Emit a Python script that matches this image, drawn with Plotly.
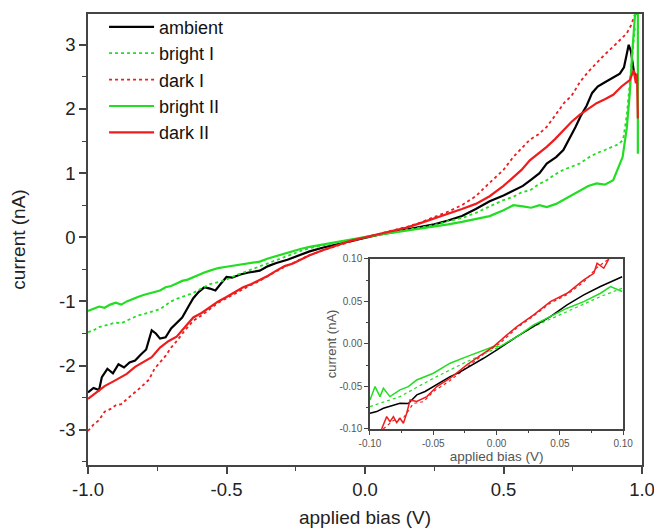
import plotly.graph_objects as go

# ---------------- main panel data (bias V, current nA) ----------------
amb_x = [-1.0, -0.98, -0.96, -0.95, -0.93, -0.91, -0.89, -0.87, -0.85, -0.83, -0.81, -0.79, -0.77, -0.755,
         -0.74, -0.72, -0.70, -0.68, -0.66, -0.64, -0.62, -0.60, -0.58, -0.56, -0.54, -0.52, -0.50, -0.48,
         -0.45, -0.42, -0.38, -0.35, -0.32, -0.28, -0.25, -0.20, -0.15, -0.10, -0.05, 0.0, 0.05, 0.10, 0.15,
         0.20, 0.25, 0.30, 0.35, 0.40, 0.45, 0.50, 0.535, 0.57, 0.60, 0.63, 0.656, 0.69, 0.716, 0.74, 0.76,
         0.78, 0.80, 0.82, 0.84, 0.86, 0.88, 0.90, 0.92, 0.935, 0.945, 0.952, 0.96, 0.97, 0.98]
amb_y = [-2.42, -2.35, -2.38, -2.18, -2.05, -2.12, -1.98, -2.03, -1.95, -1.92, -1.83, -1.75, -1.45, -1.50,
         -1.58, -1.56, -1.42, -1.33, -1.25, -1.10, -0.95, -0.85, -0.78, -0.80, -0.83, -0.72, -0.62, -0.63,
         -0.58, -0.55, -0.52, -0.45, -0.40, -0.35, -0.30, -0.22, -0.16, -0.11, -0.05, 0.0, 0.04, 0.08, 0.12,
         0.16, 0.20, 0.26, 0.33, 0.44, 0.56, 0.65, 0.73, 0.80, 0.90, 1.00, 1.15, 1.25, 1.36, 1.55, 1.72,
         1.90, 2.05, 2.25, 2.35, 2.40, 2.45, 2.50, 2.55, 2.65, 2.85, 3.00, 2.90, 2.60, 2.45]

brI_x = [-1.0, -0.98, -0.96, -0.94, -0.92, -0.90, -0.88, -0.86, -0.84, -0.82, -0.80, -0.78, -0.76, -0.74,
         -0.72, -0.70, -0.68, -0.66, -0.64, -0.62, -0.60, -0.58, -0.56, -0.53, -0.50, -0.47, -0.44, -0.41,
         -0.38, -0.35, -0.32, -0.29, -0.26, -0.23, -0.20, -0.15, -0.10, -0.05, 0.0, 0.05, 0.10, 0.15, 0.20,
         0.25, 0.30, 0.35, 0.40, 0.45, 0.50, 0.535, 0.565, 0.595, 0.625, 0.656, 0.686, 0.716, 0.746, 0.776,
         0.806, 0.836, 0.866, 0.896, 0.915, 0.932, 0.945, 0.96, 0.975]
brI_y = [-1.48, -1.45, -1.40, -1.38, -1.36, -1.33, -1.34, -1.30, -1.27, -1.22, -1.20, -1.17, -1.14, -1.12,
         -1.06, -1.00, -0.96, -0.93, -0.90, -0.87, -0.82, -0.77, -0.73, -0.70, -0.66, -0.60, -0.55, -0.50,
         -0.46, -0.41, -0.35, -0.30, -0.26, -0.21, -0.17, -0.12, -0.08, -0.04, 0.0, 0.04, 0.08, 0.11, 0.15,
         0.19, 0.25, 0.30, 0.38, 0.48, 0.58, 0.63, 0.70, 0.73, 0.82, 0.89, 0.98, 1.05, 1.10, 1.15,
         1.24, 1.31, 1.36, 1.41, 1.45, 1.52, 1.90, 2.60, 3.30]

dkI_x = [-1.0, -0.98, -0.96, -0.94, -0.92, -0.90, -0.88, -0.86, -0.84, -0.82, -0.80, -0.78, -0.76, -0.74,
         -0.72, -0.70, -0.68, -0.65, -0.62, -0.59, -0.56, -0.53, -0.50, -0.47, -0.44, -0.41, -0.38, -0.35,
         -0.32, -0.29, -0.26, -0.23, -0.20, -0.15, -0.10, -0.05, 0.0, 0.05, 0.10, 0.15, 0.20, 0.25, 0.30,
         0.35, 0.40, 0.45, 0.50, 0.535, 0.565, 0.595, 0.625, 0.656, 0.69, 0.72, 0.745, 0.776, 0.806, 0.836,
         0.866, 0.896, 0.92, 0.945, 0.96, 0.975]
dkI_y = [-3.02, -2.92, -2.85, -2.72, -2.68, -2.62, -2.60, -2.52, -2.45, -2.38, -2.30, -2.22, -2.05, -1.95,
         -1.85, -1.72, -1.62, -1.45, -1.30, -1.22, -1.12, -1.02, -0.95, -0.88, -0.80, -0.74, -0.68, -0.60,
         -0.53, -0.46, -0.40, -0.34, -0.28, -0.20, -0.13, -0.06, 0.0, 0.05, 0.10, 0.16, 0.23, 0.31, 0.40,
         0.50, 0.64, 0.85, 1.05, 1.25, 1.38, 1.52, 1.60, 1.72, 1.92, 2.10, 2.20, 2.42, 2.58, 2.72,
         2.85, 2.97, 3.08, 3.18, 3.30, 3.48]

brII_x = [-1.0, -0.98, -0.96, -0.94, -0.92, -0.90, -0.88, -0.86, -0.84, -0.82, -0.80, -0.78, -0.76, -0.74,
          -0.72, -0.70, -0.68, -0.66, -0.64, -0.62, -0.60, -0.58, -0.56, -0.53, -0.50, -0.47, -0.44, -0.41,
          -0.38, -0.35, -0.32, -0.29, -0.26, -0.23, -0.20, -0.15, -0.10, -0.05, 0.0, 0.05, 0.10, 0.15, 0.20,
          0.25, 0.30, 0.35, 0.40, 0.45, 0.50, 0.535, 0.57, 0.60, 0.63, 0.656, 0.69, 0.716, 0.746, 0.776,
          0.806, 0.836, 0.866, 0.896, 0.91, 0.93, 0.945, 0.956, 0.965, 0.975, 0.985, 0.985]
brII_y = [-1.15, -1.12, -1.08, -1.10, -1.05, -1.02, -1.05, -1.00, -0.96, -0.93, -0.90, -0.88, -0.85, -0.83,
          -0.78, -0.76, -0.72, -0.68, -0.66, -0.62, -0.58, -0.55, -0.52, -0.48, -0.46, -0.44, -0.42, -0.40,
          -0.38, -0.33, -0.29, -0.25, -0.22, -0.18, -0.15, -0.11, -0.07, -0.03, 0.0, 0.04, 0.07, 0.10, 0.13,
          0.16, 0.20, 0.24, 0.28, 0.33, 0.42, 0.50, 0.48, 0.46, 0.50, 0.47, 0.52, 0.58, 0.65, 0.73,
          0.80, 0.84, 0.82, 0.89, 1.05, 1.25, 1.70, 2.25, 2.90, 3.48, 3.48, 1.30]

dkII_x = [-1.0, -0.97, -0.94, -0.91, -0.88, -0.86, -0.83, -0.80, -0.77, -0.74, -0.71, -0.68, -0.65, -0.62,
          -0.59, -0.56, -0.53, -0.50, -0.47, -0.44, -0.41, -0.38, -0.35, -0.32, -0.29, -0.26, -0.23, -0.20,
          -0.15, -0.10, -0.05, 0.0, 0.05, 0.10, 0.15, 0.20, 0.25, 0.30, 0.35, 0.40, 0.45, 0.50, 0.535, 0.565,
          0.595, 0.625, 0.656, 0.686, 0.716, 0.746, 0.776, 0.806, 0.836, 0.866, 0.896, 0.926, 0.956, 0.97,
          0.978, 0.982, 0.985]
dkII_y = [-2.52, -2.42, -2.32, -2.25, -2.18, -2.13, -2.02, -1.95, -1.87, -1.72, -1.62, -1.55, -1.40, -1.25,
          -1.18, -1.09, -1.00, -0.93, -0.85, -0.78, -0.73, -0.67, -0.60, -0.52, -0.45, -0.41, -0.34, -0.28,
          -0.20, -0.12, -0.05, 0.0, 0.05, 0.10, 0.15, 0.22, 0.29, 0.36, 0.44, 0.52, 0.64, 0.80, 0.94, 1.05,
          1.20, 1.30, 1.41, 1.53, 1.67, 1.80, 1.91, 2.00, 2.09, 2.15, 2.22, 2.35, 2.45, 2.60,
          2.40, 2.55, 1.85]

# ---------------- inset data ----------------
in_amb_x = [-0.1, -0.0947, -0.0894, -0.0829, -0.0763, -0.0697, -0.063, -0.0565, -0.0499, -0.0433, -0.0367,
            -0.0301, -0.0235, -0.0169, -0.0103, 0.0003, 0.008, 0.016, 0.029, 0.0425, 0.0557, 0.0689, 0.082, 0.0992]
in_amb_y = [-0.0816, -0.0796, -0.0757, -0.0730, -0.0698, -0.0700, -0.0600, -0.0560, -0.0500, -0.0450, -0.0384,
            -0.0340, -0.0286, -0.0230, -0.0169, -0.0071, 0.0010, 0.0086, 0.0204, 0.0320, 0.0459, 0.0576, 0.0675, 0.0790]

in_dkII_x = [-0.0908, -0.0868, -0.0842, -0.0815, -0.0789, -0.0763, -0.0736, -0.071, -0.0683, -0.0631, -0.0551,
             -0.0472, -0.0367, -0.0235, -0.0103, -0.0024, 0.0082, 0.0161, 0.0293, 0.0425, 0.0557, 0.0689,
             0.0768, 0.0794, 0.0847, 0.0887]
in_dkII_y = [-0.1000, -0.0855, -0.0914, -0.0855, -0.0925, -0.0875, -0.0933, -0.0816, -0.0659, -0.0678, -0.0620,
             -0.0502, -0.0404, -0.0247, -0.0110, -0.0031, 0.0106, 0.0204, 0.0341, 0.0498, 0.0596, 0.0753,
             0.0831, 0.0949, 0.0890, 0.1000]

in_dkI_x = [-0.0895, -0.0815, -0.0736, -0.0657, -0.0578, -0.0499, -0.0367, -0.0235, -0.0103, 0.0029, 0.0161,
            0.0293, 0.0425, 0.0557, 0.0689, 0.0794, 0.0887]
in_dkI_y = [-0.1000, -0.0900, -0.0870, -0.0700, -0.0680, -0.0560, -0.0430, -0.0270, -0.0120, 0.0010, 0.0190,
            0.0330, 0.0480, 0.0580, 0.0730, 0.0900, 0.1000]

in_brII_x = [-0.1, -0.096, -0.0921, -0.0894, -0.0842, -0.0763, -0.0697, -0.0631, -0.0499, -0.0367, -0.0235,
             -0.0103, -0.0024, 0.0029, 0.0161, 0.0293, 0.0425, 0.0557, 0.0689, 0.0821, 0.09, 0.0992]
in_brII_y = [-0.0659, -0.0502, -0.0620, -0.0522, -0.0620, -0.0541, -0.0502, -0.0424, -0.0345, -0.0227, -0.0149,
             -0.0071, -0.0031, -0.0031, 0.0086, 0.0224, 0.0322, 0.0420, 0.0498, 0.0596, 0.0675, 0.0616]

in_brI_x = [-0.1, -0.0763, -0.0499, -0.0235, 0.0029, 0.0293, 0.0557, 0.0821, 0.0992]
in_brI_y = [-0.0737, -0.0620, -0.0404, -0.0208, -0.0031, 0.0204, 0.0380, 0.0557, 0.0655]

main_xticks = [-1.0, -0.5, 0.0, 0.5, 1.0]
main_xlabels = ["-1.0", "-0.5", "0.0", "0.5", "1.0"]
main_yticks = [-3, -2, -1, 0, 1, 2, 3]
main_ylabels = ["-3", "-2", "-1", "0", "1", "2", "3"]
inset_ticks = [-0.10, -0.05, 0.00, 0.05, 0.10]
inset_labels = ["-0.10", "-0.05", "0.00", "0.05", "0.10"]

GREEN = "#22dd22"
RED = "#ee1c1c"
BLACK = "#000000"
FONT = "Liberation Sans, Arial, sans-serif"

fig = go.Figure()

main = [
    ("ambient", amb_x, amb_y, BLACK, "solid", 2.2),
    ("bright I", brI_x, brI_y, GREEN, "dot", 1.8),
    ("dark I", dkI_x, dkI_y, RED, "dot", 1.8),
    ("bright II", brII_x, brII_y, GREEN, "solid", 2.2),
    ("dark II", dkII_x, dkII_y, RED, "solid", 2.2),
]
for name, xs, ys, c, d, w in main:
    fig.add_trace(go.Scatter(x=xs, y=ys, name=name, mode="lines",
                             line=dict(color=c, dash=d, width=w), xaxis="x", yaxis="y"))

inset = [
    (in_brI_x, in_brI_y, GREEN, "dot", 1.2),
    (in_dkI_x, in_dkI_y, RED, "dot", 1.2),
    (in_amb_x, in_amb_y, BLACK, "solid", 1.5),
    (in_brII_x, in_brII_y, GREEN, "solid", 1.5),
    (in_dkII_x, in_dkII_y, RED, "solid", 1.5),
]
for xs, ys, c, d, w in inset:
    fig.add_trace(go.Scatter(x=xs, y=ys, mode="lines", showlegend=False,
                             line=dict(color=c, dash=d, width=w), xaxis="x2", yaxis="y2"))

axcol = "#444444"
fig.update_layout(
    width=654, height=529,
    margin=dict(l=88, r=12, t=14, b=64, autoexpand=False),
    paper_bgcolor="white", plot_bgcolor="white",
    font=dict(family=FONT, color="#222222"),
    showlegend=True,
    legend=dict(x=0.029, y=1.012, xanchor="left", yanchor="top", bgcolor="rgba(0,0,0,0)",
                font=dict(size=18, color="#111111"), tracegroupgap=0, itemwidth=45),
    xaxis=dict(domain=[0, 1], range=[-1.0, 1.0], tickvals=main_xticks, ticktext=main_xlabels,
               automargin=False, ticklabeloverflow="allow",
               ticks="outside", ticklen=7, tickwidth=1.5, tickcolor=axcol,
               showline=True, linecolor=axcol, linewidth=1.5, mirror=True, showgrid=False, zeroline=False,
               minor=dict(dtick=0.25, ticks="outside", ticklen=4, tickwidth=1.2, tickcolor=axcol),
               tickfont=dict(size=18.5), title=dict(text="applied bias (V)", font=dict(size=19), standoff=12)),
    yaxis=dict(domain=[0, 1], range=[-3.55, 3.48], tickvals=main_yticks, ticktext=main_ylabels,
               automargin=False,
               ticks="outside", ticklen=7, tickwidth=1.5, tickcolor=axcol,
               showline=True, linecolor=axcol, linewidth=1.5, mirror=True, showgrid=False, zeroline=False,
               minor=dict(dtick=0.5, ticks="outside", ticklen=4, tickwidth=1.2, tickcolor=axcol),
               tickfont=dict(size=18.5), title=dict(text="current (nA)", font=dict(size=19), standoff=28)),
    xaxis2=dict(domain=[0.509, 0.966], anchor="y2", range=[-0.1, 0.1], tickvals=inset_ticks, ticktext=inset_labels,
                automargin=False,
                ticks="outside", ticklen=4, tickwidth=1, tickcolor=axcol,
                showline=True, linecolor=axcol, linewidth=1.5, mirror=True, showgrid=False, zeroline=False,
                minor=dict(dtick=0.025, ticks="outside", ticklen=2.5, tickwidth=1, tickcolor=axcol),
                tickfont=dict(size=10, color="#555555"),
                title=dict(text="applied bias (V)", font=dict(size=13.5, color="#555555"), standoff=1)),
    yaxis2=dict(domain=[0.08, 0.457], anchor="x2", range=[-0.1, 0.1], tickvals=inset_ticks, ticktext=inset_labels,
                automargin=False,
                ticks="outside", ticklen=4, tickwidth=1, tickcolor=axcol,
                showline=True, linecolor=axcol, linewidth=1.5, mirror=True, showgrid=False, zeroline=False,
                minor=dict(dtick=0.025, ticks="outside", ticklen=2.5, tickwidth=1, tickcolor=axcol),
                tickfont=dict(size=10, color="#555555"),
                title=dict(text="current (nA)", font=dict(size=13, color="#555555"), standoff=0)),
)

fig.write_html("out.html", config={"displayModeBar": False},
               post_script="document.body.style.margin='0';document.body.style.overflow='hidden';")
